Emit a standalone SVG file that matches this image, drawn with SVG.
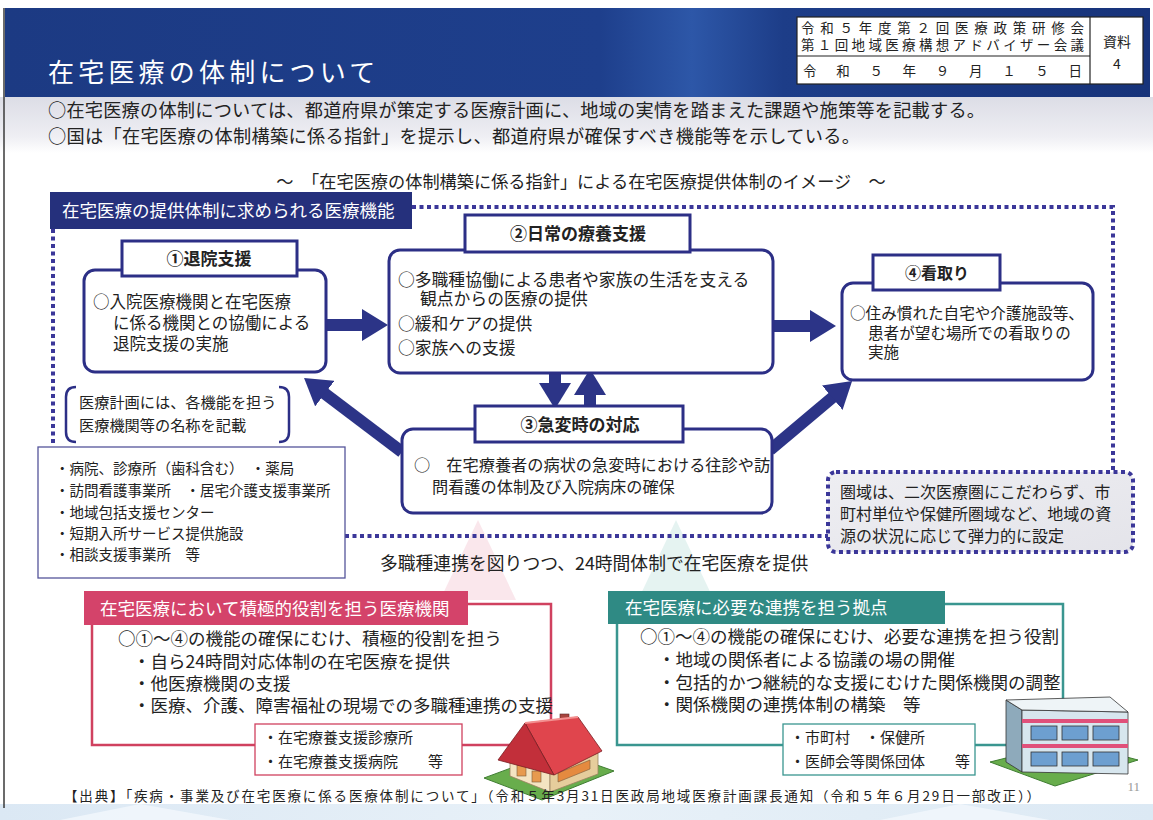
<svg xmlns="http://www.w3.org/2000/svg" width="1153" height="820" viewBox="0 0 1153 820">
  <defs>
    <linearGradient id="hdr" x1="0" y1="0" x2="1" y2="0">
      <stop offset="0" stop-color="#1c3a83"/>
      <stop offset="0.52" stop-color="#1e3f8c"/>
      <stop offset="0.6" stop-color="#2d57a8"/>
      <stop offset="0.68" stop-color="#1d3d88"/>
      <stop offset="1" stop-color="#17337a"/>
    </linearGradient>
    <linearGradient id="band" x1="0" y1="0" x2="0" y2="1">
      <stop offset="0" stop-color="#dcdde6"/>
      <stop offset="0.7" stop-color="#eeeef3"/>
      <stop offset="1" stop-color="#ffffff"/>
    </linearGradient>
    <linearGradient id="area" x1="0" y1="0" x2="1" y2="1">
      <stop offset="0" stop-color="#eeeef2"/>
      <stop offset="1" stop-color="#e4e4ea"/>
    </linearGradient>
    <linearGradient id="foot" x1="0" y1="0" x2="1" y2="0">
      <stop offset="0" stop-color="#dbe8f4"/>
      <stop offset="0.5" stop-color="#e8f1f8"/>
      <stop offset="1" stop-color="#dce9f4"/>
    </linearGradient>
    <marker id="head" markerUnits="userSpaceOnUse" markerWidth="26" markerHeight="32" refX="1" refY="16" orient="auto" viewBox="0 0 26 32">
      <path d="M0,0 L26,16 L0,32 z" fill="#2c3487"/>
    </marker>
    <style>
      .jp { font-family: "Noto Sans CJK JP", "Noto Sans", sans-serif; fill: #222; }
      .w { fill: #ffffff; }
      .b { font-weight: bold; }
      .box { fill: #ffffff; stroke: #2c2f86; stroke-width: 3; }
      .lbl { fill: #ffffff; stroke: #2c2f86; stroke-width: 3; }
      .dot { fill: none; stroke: #3b3799; stroke-width: 4; stroke-dasharray: 4 3.5; }
      .arr { stroke: #2c3487; stroke-width: 12; fill: none; marker-end: url(#head); }
      .s15 { font-size: 15px; }
      .s16 { font-size: 16px; }
      .s17 { font-size: 17px; }
    </style>
  </defs>

  <!-- page -->
  <rect x="0" y="0" width="1153" height="820" fill="#ffffff"/>
  <rect x="0" y="97" width="1153" height="56" fill="url(#band)"/>
  <rect x="0" y="804" width="1153" height="16" fill="url(#foot)"/>
  <path d="M60,820 L140,804 L230,820 z M880,820 L960,804 L1050,820 z" fill="#f3f8fc" opacity="0.8"/>
  <line x1="4" y1="8" x2="4" y2="808" stroke="#3a3a3a" stroke-width="1.5"/>

  <!-- header band -->
  <g id="header">
    <rect x="5" y="8" width="1145" height="89" fill="url(#hdr)"/>
    <text x="48" y="82" class="jp w" font-size="26" letter-spacing="4.2">在宅医療の体制について</text>
    <rect x="797" y="17" width="346" height="67" fill="#ffffff" stroke="#222" stroke-width="1.2"/>
    <line x1="797" y1="56" x2="1090" y2="56" stroke="#222" stroke-width="1.2"/>
    <line x1="1090" y1="17" x2="1090" y2="84" stroke="#222" stroke-width="1.2"/>
    <text x="801" y="33" class="jp" font-size="13.5" textLength="283" lengthAdjust="spacing">令和５年度第２回医療政策研修会</text>
    <text x="801" y="50" class="jp" font-size="13.5" textLength="283" lengthAdjust="spacing">第１回地域医療構想アドバイザー会議</text>
    <text x="803" y="76" class="jp" font-size="13.5" textLength="279" lengthAdjust="spacing">令和５年９月１５日</text>
    <text x="1117" y="47" class="jp" font-size="14" text-anchor="middle">資料</text>
    <text x="1117" y="69" class="jp" font-size="14" text-anchor="middle">4</text>
  </g>

  <!-- summary -->
  <g id="summary">
    <text x="48" y="117" class="jp" font-size="18.2" textLength="937" lengthAdjust="spacing">○在宅医療の体制については、都道府県が策定する医療計画に、地域の実情を踏まえた課題や施策等を記載する。</text>
    <text x="48" y="143" class="jp" font-size="18.2" textLength="812" lengthAdjust="spacing">○国は「在宅医療の体制構築に係る指針」を提示し、都道府県が確保すべき機能等を示している。</text>
    <text x="581" y="188" class="jp" font-size="17.2" text-anchor="middle">～　「在宅医療の体制構築に係る指針」による在宅医療提供体制のイメージ　～</text>
  </g>

  <!-- upward hint triangles -->
  <g id="hints">
    <polygon points="478,520 440,600 516,600" fill="#f2c4cf" opacity="0.4"/>
    <polygon points="676,520 638,600 714,600" fill="#bfe0dd" opacity="0.4"/>
  </g>

  <!-- dotted frame of the medical functions -->
  <g id="frame">
    <path class="dot" d="M412,207 H1113 V472"/>
    <path class="dot" d="M53,229 V446"/>
    <path class="dot" d="M345,536 H828"/>
    <rect x="50" y="192" width="362" height="37" fill="#25307c"/>
    <text x="62" y="217" class="jp w" font-size="17.5">在宅医療の提供体制に求められる医療機能</text>
  </g>

  <!-- connectors -->
  <g id="connectors">
    <line class="arr" x1="326" y1="325" x2="363" y2="325"/>
    <line class="arr" x1="774" y1="326" x2="811" y2="326"/>
    <line class="arr" x1="555" y1="373" x2="555" y2="384"/>
    <line class="arr" x1="590" y1="410" x2="590" y2="394"/>
    <line class="arr" x1="402" y1="452" x2="324" y2="393"/>
    <line class="arr" x1="770" y1="450" x2="833" y2="397"/>
  </g>

  <!-- ① -->
  <g id="node1">
    <rect class="box" x="84" y="270" width="242" height="102" rx="11"/>
    <rect class="lbl" x="122" y="241" width="175" height="35"/>
    <text x="209" y="265" class="jp b s17" text-anchor="middle">①退院支援</text>
    <text x="93" y="308" class="jp" font-size="16.5">○入院医療機関と在宅医療</text>
    <text x="113" y="329" class="jp" font-size="16.5">に係る機関との協働による</text>
    <text x="113" y="350" class="jp" font-size="16.5">退院支援の実施</text>
  </g>

  <!-- ② -->
  <g id="node2">
    <rect class="box" x="389" y="250" width="384" height="123" rx="11"/>
    <rect class="lbl" x="465" y="215" width="225" height="37"/>
    <text x="578" y="240" class="jp b s17" text-anchor="middle">②日常の療養支援</text>
    <text x="398" y="286" class="jp" font-size="16.8">○多職種協働による患者や家族の生活を支える</text>
    <text x="420" y="305" class="jp" font-size="16.8">観点からの医療の提供</text>
    <text x="398" y="330" class="jp" font-size="16.8">○緩和ケアの提供</text>
    <text x="398" y="354" class="jp" font-size="16.8">○家族への支援</text>
  </g>

  <!-- ④ -->
  <g id="node4">
    <rect class="box" x="842" y="283" width="251" height="97" rx="11"/>
    <rect class="lbl" x="873" y="255" width="127" height="35"/>
    <text x="937" y="279" class="jp b s16" text-anchor="middle">④看取り</text>
    <text x="850" y="319" class="jp" font-size="15.6">○住み慣れた自宅や介護施設等、</text>
    <text x="868" y="339" class="jp" font-size="15.6">患者が望む場所での看取りの</text>
    <text x="868" y="358" class="jp" font-size="15.6">実施</text>
  </g>

  <!-- ③ -->
  <g id="node3">
    <rect class="box" x="402" y="429" width="370" height="84" rx="11"/>
    <rect class="lbl" x="475" y="406" width="208" height="36"/>
    <text x="580" y="431" class="jp b s17" text-anchor="middle">③急変時の対応</text>
    <text x="414" y="471" class="jp" font-size="16.2">○　在宅療養者の病状の急変時における往診や訪</text>
    <text x="432" y="493" class="jp" font-size="16.2">問看護の体制及び入院病床の確保</text>
  </g>

  <!-- plan note -->
  <g id="note">
    <path d="M76,387 Q66,387 66,397 V432 Q66,442 76,442" fill="none" stroke="#2c2f86" stroke-width="2.5"/>
    <path d="M279,387 Q289,387 289,397 V432 Q289,442 279,442" fill="none" stroke="#2c2f86" stroke-width="2.5"/>
    <text x="79" y="408" class="jp" font-size="15.2">医療計画には、各機能を担う</text>
    <text x="79" y="431" class="jp" font-size="15.2">医療機関等の名称を記載</text>
  </g>

  <!-- institutions list -->
  <g id="list">
    <rect x="38" y="447" width="307" height="131" fill="#ffffff" stroke="#55559a" stroke-width="1.3"/>
    <text x="55" y="474" class="jp" font-size="14.5">・病院、診療所（歯科含む）　・薬局</text>
    <text x="55" y="496" class="jp" font-size="14.5">・訪問看護事業所　・居宅介護支援事業所</text>
    <text x="55" y="518" class="jp" font-size="14.5">・地域包括支援センター</text>
    <text x="55" y="539" class="jp" font-size="14.5">・短期入所サービス提供施設</text>
    <text x="55" y="560" class="jp" font-size="14.5">・相談支援事業所　等</text>
  </g>

  <!-- area note -->
  <g id="area-note">
    <rect x="828" y="472" width="305" height="80" rx="8" fill="url(#area)"/>
    <rect x="828" y="472" width="305" height="80" rx="8" class="dot"/>
    <text x="840" y="498" class="jp s16">圏域は、二次医療圏にこだわらず、市</text>
    <text x="840" y="520" class="jp s16">町村単位や保健所圏域など、地域の資</text>
    <text x="840" y="542" class="jp s16">源の状況に応じて弾力的に設定</text>
  </g>

  <text x="380" y="570" class="jp" font-size="17.8">多職種連携を図りつつ、24時間体制で在宅医療を提供</text>

  <!-- active medical institutions -->
  <g id="active">
    <rect x="92" y="604" width="459" height="141" fill="#ffffff" stroke="#d0415f" stroke-width="2.5"/>
    <rect x="84" y="591" width="384" height="34" fill="#d4436a"/>
    <text x="100" y="615" class="jp w" font-size="17.5">在宅医療において積極的役割を担う医療機関</text>
    <text x="118" y="645" class="jp" font-size="17.5">○①～④の機能の確保にむけ、積極的役割を担う</text>
    <text x="133" y="668" class="jp" font-size="17.5">・自ら24時間対応体制の在宅医療を提供</text>
    <text x="133" y="690" class="jp" font-size="17.5">・他医療機関の支援</text>
    <text x="133" y="712" class="jp" font-size="17.5">・医療、介護、障害福祉の現場での多職種連携の支援</text>
    <rect x="255" y="724" width="207" height="51" fill="#ffffff" stroke="#d0415f" stroke-width="1.3"/>
    <text x="263" y="743" class="jp s15">・在宅療養支援診療所</text>
    <text x="263" y="767" class="jp s15">・在宅療養支援病院　　等</text>
  </g>

  <!-- house -->
  <g id="house">
    <polygon points="484,778 557,751 614,771 542,800" fill="#68ad4c" stroke="#3f7d32" stroke-width="1"/>
    <polygon points="510,755 550,771 550,792 510,776" fill="#f4e4c2" stroke="#9a8060" stroke-width="0.8"/>
    <polygon points="550,771 598,753 598,774 550,792" fill="#e6cd9c" stroke="#9a8060" stroke-width="0.8"/>
    <rect x="517" y="765" width="9" height="11" fill="#e79a4f" stroke="#7a5a3a" stroke-width="0.6"/>
    <rect x="532" y="771" width="9" height="11" fill="#e79a4f" stroke="#7a5a3a" stroke-width="0.6"/>
    <polygon points="558,773 590,760 590,769 558,782" fill="#e58a3f" stroke="#7a5a3a" stroke-width="0.6"/>
    <rect x="560" y="714" width="9" height="11" fill="#a8443e" stroke="#5a2a2a" stroke-width="0.6"/>
    <polygon points="525,723 578,717 602,751 554,775" fill="#e0454d" stroke="#7a1f24" stroke-width="0.8"/>
    <polygon points="498,760 525,723 554,775" fill="#c22f3a" stroke="#7a1f24" stroke-width="0.8"/>
    <line x1="525" y1="723" x2="578" y2="717" stroke="#f49090" stroke-width="2"/>
  </g>

  <!-- coordination hubs -->
  <g id="hub">
    <rect x="617" y="604" width="446" height="141" fill="#ffffff" stroke="#3a9690" stroke-width="2.5"/>
    <rect x="608" y="591" width="337" height="33" fill="#2f8a84"/>
    <text x="625" y="614" class="jp w" font-size="17.5">在宅医療に必要な連携を担う拠点</text>
    <text x="640" y="643" class="jp" font-size="17.5">○①～④の機能の確保にむけ、必要な連携を担う役割</text>
    <text x="658" y="666" class="jp" font-size="17.5">・地域の関係者による協議の場の開催</text>
    <text x="658" y="689" class="jp" font-size="17.5">・包括的かつ継続的な支援にむけた関係機関の調整</text>
    <text x="658" y="711" class="jp" font-size="17.5">・関係機関の連携体制の構築　等</text>
    <rect x="783" y="724" width="192" height="51" fill="#ffffff" stroke="#3a9690" stroke-width="1.3"/>
    <text x="790" y="743" class="jp s15">・市町村　・保健所</text>
    <text x="790" y="767" class="jp s15">・医師会等関係団体　　等</text>
  </g>

  <!-- building -->
  <g id="building">
    <polygon points="990,762 1070,742 1138,760 1055,786" fill="#68ad4c" stroke="#3f7d32" stroke-width="1"/>
    <polygon points="1006,700 1022,710 1022,772 1006,762" fill="#8eaabb" stroke="#333" stroke-width="0.8"/>
    <polygon points="1022,710 1128,712 1128,774 1022,772" fill="#d7e6ee" stroke="#333" stroke-width="0.8"/>
    <polygon points="1006,700 1110,697 1128,712 1022,710" fill="#eef4f7" stroke="#333" stroke-width="0.8"/>
    <rect x="1022" y="719" width="106" height="4" fill="#e0507a"/>
    <rect x="1022" y="744" width="106" height="4" fill="#e0507a"/>
    <g fill="#6d9fd0" stroke="#333" stroke-width="0.8">
      <rect x="1031" y="726" width="26" height="14"/>
      <rect x="1062" y="726" width="26" height="14"/>
      <rect x="1093" y="726" width="26" height="14"/>
      <rect x="1031" y="752" width="26" height="14"/>
      <rect x="1062" y="752" width="26" height="14"/>
      <rect x="1093" y="752" width="26" height="14"/>
    </g>
  </g>

  <!-- source -->
  <g id="source">
    <text x="64" y="801" class="jp" font-size="13.5" textLength="976" lengthAdjust="spacing">【出典】「疾病・事業及び在宅医療に係る医療体制について」（令和５年3月31日医政局地域医療計画課長通知（令和５年６月29日一部改正））</text>
    <text x="1140" y="791" font-family="Liberation Serif, serif" font-size="13" fill="#9a9a9a" text-anchor="end">11</text>
  </g>
</svg>
